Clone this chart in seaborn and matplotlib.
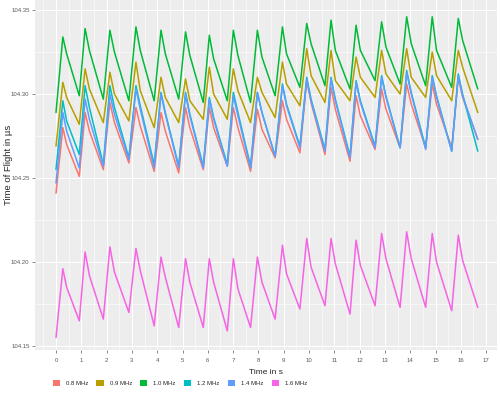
import matplotlib
matplotlib.use("Agg")
import matplotlib.pyplot as plt
from matplotlib.patches import Patch
from matplotlib.ticker import MultipleLocator
import numpy as np
import pandas as pd
import seaborn as sns

# beat timing (s), shared by all frequencies
trough_t = [0.0, 0.92, 1.87, 2.88, 3.88, 4.85, 5.82, 6.77, 7.69, 8.66,
            9.64, 10.63, 11.62, 12.61, 13.6, 14.61, 15.64, 16.67]
peak_t = [0.27, 1.15, 2.13, 3.16, 4.15, 5.12, 6.06, 7.01, 7.96, 8.95,
          9.91, 10.87, 11.86, 12.87, 13.86, 14.87, 15.9]
shoulder_t = [0.42, 1.32, 2.31, 3.33, 4.32, 5.29, 6.23, 7.19, 8.14, 9.11,
              10.08, 11.04, 12.03, 13.04, 14.04, 15.04, 16.07]

freqs = ["0.8 MHz", "0.9 MHz", "1.0 MHz", "1.2 MHz", "1.4 MHz", "1.6 MHz"]
colors = ["#F8766D", "#B79F00", "#00BA38", "#00BFC4", "#619CFF", "#F564E3"]

# 0.8 MHz
red_trough = [104.241, 104.251, 104.255, 104.259, 104.254, 104.253, 104.255, 104.257, 104.254,
              104.262, 104.265, 104.264, 104.260, 104.267, 104.268, 104.268, 104.268, 104.273]
red_peak = [104.280, 104.289, 104.295, 104.292, 104.289, 104.292, 104.292, 104.292, 104.291,
            104.296, 104.308, 104.304, 104.299, 104.303, 104.306, 104.306, 104.310]
red_shoulder = [104.270, 104.278, 104.283, 104.281, 104.278, 104.280, 104.280, 104.280, 104.279,
                104.285, 104.295, 104.291, 104.287, 104.291, 104.294, 104.294, 104.298]
# 0.9 MHz
olive_trough = [104.269, 104.282, 104.283, 104.284, 104.280, 104.283, 104.285, 104.285, 104.283,
                104.286, 104.293, 104.295, 104.296, 104.298, 104.300, 104.298, 104.296, 104.289]
olive_peak = [104.307, 104.315, 104.313, 104.319, 104.310, 104.309, 104.316, 104.315, 104.310,
              104.319, 104.327, 104.326, 104.322, 104.326, 104.327, 104.325, 104.326]
olive_shoulder = [104.298, 104.303, 104.300, 104.302, 104.298, 104.296, 104.300, 104.302, 104.301,
                  104.306, 104.311, 104.308, 104.310, 104.312, 104.310, 104.311, 104.316]
# 1.0 MHz
green_trough = [104.289, 104.299, 104.297, 104.296, 104.296, 104.297, 104.295, 104.296, 104.295,
                104.299, 104.304, 104.305, 104.303, 104.308, 104.306, 104.305, 104.304, 104.303]
green_peak = [104.334, 104.339, 104.338, 104.340, 104.338, 104.337, 104.335, 104.338, 104.338,
              104.340, 104.342, 104.344, 104.341, 104.343, 104.346, 104.346, 104.345]
green_shoulder = [104.324, 104.326, 104.325, 104.326, 104.324, 104.323, 104.321, 104.323, 104.322,
                  104.324, 104.330, 104.326, 104.326, 104.328, 104.330, 104.326, 104.332]
# 1.2 MHz
teal_trough = [104.255, 104.264, 104.258, 104.262, 104.258, 104.257, 104.257, 104.258, 104.257,
               104.263, 104.269, 104.267, 104.263, 104.269, 104.268, 104.268, 104.266, 104.266]
teal_peak = [104.296, 104.305, 104.305, 104.305, 104.301, 104.301, 104.298, 104.301, 104.301,
             104.306, 104.310, 104.310, 104.308, 104.311, 104.314, 104.311, 104.312]
teal_shoulder = [104.284, 104.292, 104.292, 104.293, 104.289, 104.288, 104.286, 104.289, 104.289,
                 104.294, 104.297, 104.297, 104.296, 104.299, 104.301, 104.299, 104.300]
# 1.4 MHz
blue_trough = [104.247, 104.256, 104.257, 104.261, 104.256, 104.256, 104.256, 104.257, 104.256,
               104.263, 104.268, 104.266, 104.262, 104.268, 104.268, 104.267, 104.266, 104.273]
blue_peak = [104.289, 104.297, 104.300, 104.303, 104.300, 104.300, 104.297, 104.299, 104.301,
             104.305, 104.309, 104.309, 104.307, 104.310, 104.313, 104.310, 104.311]
blue_shoulder = [104.278, 104.285, 104.288, 104.291, 104.288, 104.287, 104.285, 104.287, 104.289,
                 104.293, 104.296, 104.296, 104.295, 104.298, 104.300, 104.298, 104.299]
# 1.6 MHz
pink_trough = [104.155, 104.165, 104.166, 104.170, 104.162, 104.161, 104.161, 104.159, 104.161,
               104.166, 104.172, 104.174, 104.169, 104.174, 104.173, 104.173, 104.171, 104.173]
pink_peak = [104.196, 104.206, 104.209, 104.208, 104.203, 104.202, 104.202, 104.202, 104.203,
             104.210, 104.214, 104.214, 104.213, 104.217, 104.218, 104.217, 104.216]
pink_shoulder = [104.185, 104.192, 104.194, 104.195, 104.191, 104.188, 104.188, 104.184, 104.188,
                 104.193, 104.197, 104.199, 104.198, 104.202, 104.202, 104.200, 104.201]

series = {
    "0.8 MHz": (red_trough, red_peak, red_shoulder),
    "0.9 MHz": (olive_trough, olive_peak, olive_shoulder),
    "1.0 MHz": (green_trough, green_peak, green_shoulder),
    "1.2 MHz": (teal_trough, teal_peak, teal_shoulder),
    "1.4 MHz": (blue_trough, blue_peak, blue_shoulder),
    "1.6 MHz": (pink_trough, pink_peak, pink_shoulder),
}

rows = []
for f, (tr, pk, sh) in series.items():
    for i in range(len(pk)):
        rows.append((f, trough_t[i], tr[i]))
        rows.append((f, peak_t[i], pk[i]))
        rows.append((f, shoulder_t[i], sh[i]))
    rows.append((f, trough_t[-1], tr[-1]))
df = pd.DataFrame(rows, columns=["freq", "time", "tof"])

sns.set_theme(style="darkgrid", rc={"axes.facecolor": "#EDEDED",
                                     "grid.color": "white"})
plt.rcParams["font.family"] = ["Liberation Sans", "DejaVu Sans"]

fig = plt.figure(figsize=(5, 3.94), dpi=100)
ax = fig.add_axes([0.07, 0.112, 0.924, 0.888])

sns.lineplot(data=df, x="time", y="tof", hue="freq", hue_order=freqs,
             palette=dict(zip(freqs, colors)), estimator=None, sort=False,
             linewidth=1.1, legend=False, ax=ax)

ax.set_xlim(-0.83, 17.43)
ax.set_ylim(104.1477, 104.356)
ax.xaxis.set_major_locator(MultipleLocator(1))
ax.xaxis.set_minor_locator(MultipleLocator(0.5))
ax.yaxis.set_major_locator(MultipleLocator(0.05))
ax.yaxis.set_minor_locator(MultipleLocator(0.025))
ax.yaxis.set_major_formatter(matplotlib.ticker.FormatStrFormatter("%.2f"))
ax.grid(which="major", color="white", linewidth=0.8)
ax.grid(which="minor", color="white", linewidth=0.4)
ax.tick_params(axis="both", which="major", labelsize=4.3, labelcolor="#5A5A5A",
               length=2, width=0.5, color="#5A5A5A", pad=2, bottom=True, left=True)
ax.tick_params(axis="x", which="major", pad=4)
ax.tick_params(which="minor", length=0)
for s in ax.spines.values():
    s.set_visible(False)

ax.set_xlabel("Time in s", fontsize=6)
ax.xaxis.set_label_coords(0.5, -0.055)
ax.set_ylabel("Time of Flight in µs", fontsize=6.8, va="center")
ax.yaxis.set_label_coords(-0.058, 0.53)

handles = [Patch(facecolor=c, edgecolor="none") for c in colors]
fig.legend(handles, freqs, loc="center left", bbox_to_anchor=(0.105, 0.028),
           ncol=6, frameon=False, fontsize=4.3, handlelength=1.2, handleheight=1.2,
           handletextpad=1.0, columnspacing=1.4, borderpad=0, borderaxespad=0)

fig.savefig("out.png", dpi=100)
